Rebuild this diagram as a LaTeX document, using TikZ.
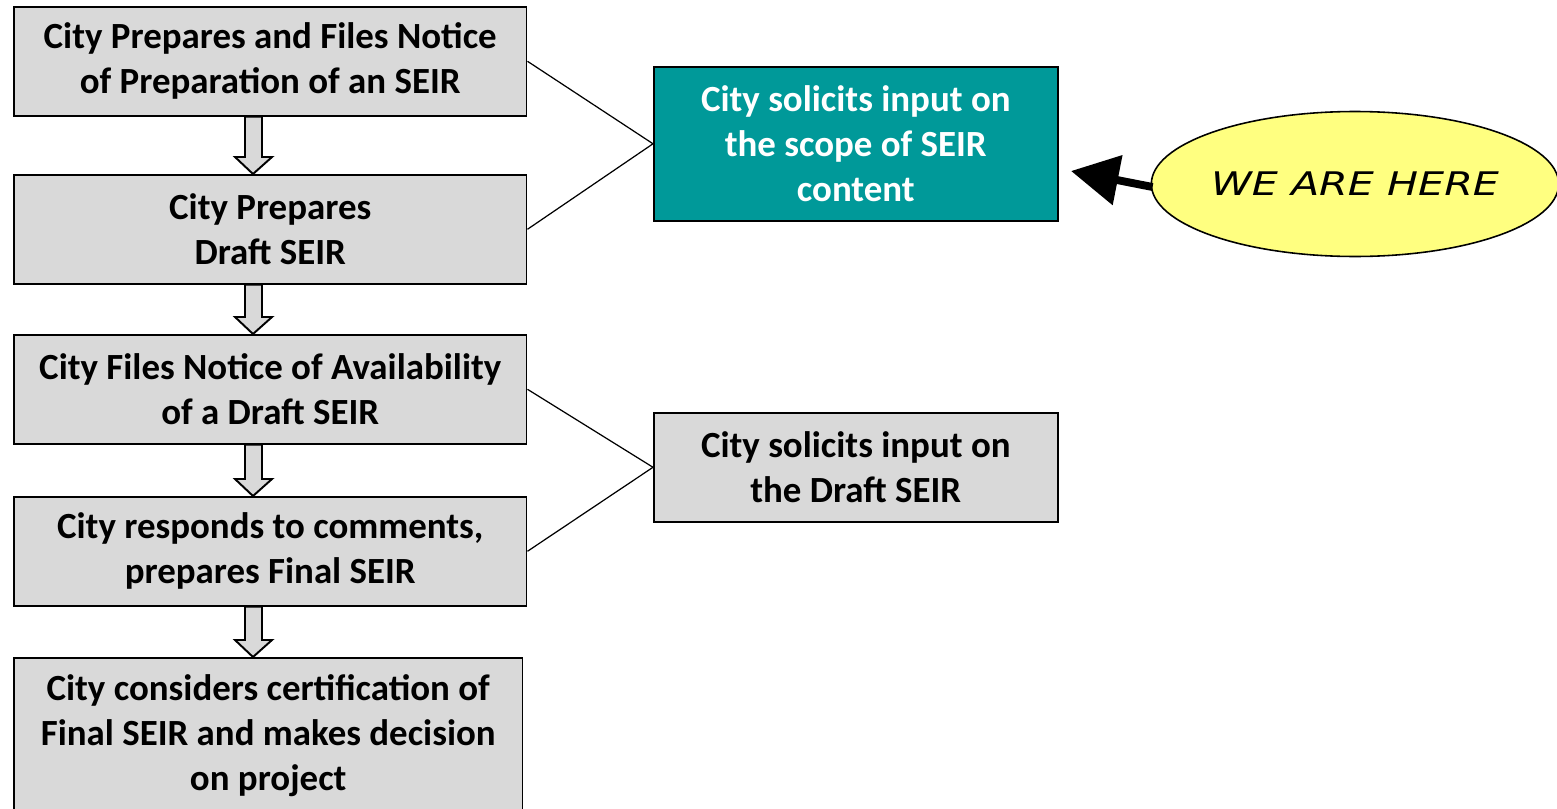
\documentclass[tikz,border=0pt]{standalone}
\usepackage{fontspec}
\setmainfont{Carlito}
\newfontfamily\verd{DejaVu Sans}
\usetikzlibrary{arrows.meta,calc,shapes.geometric}
\definecolor{boxgray}{HTML}{D9D9D9}
\definecolor{teal}{HTML}{009999}
\definecolor{hereyellow}{HTML}{FFFF80}
\tikzset{
  stepbox/.style={draw=black, line width=0.9pt, fill=boxgray, rectangle, anchor=north west,
    minimum width=10.26cm, minimum height=2.18cm, align=center, inner sep=0pt,
    font=\bfseries\fontsize{21}{25.5}\selectfont},
  tealbox/.style={stepbox, fill=teal, text=white, minimum width=8.08cm, minimum height=3.08cm},
  sidebox/.style={stepbox, minimum width=8.08cm, minimum height=2.18cm},
  link/.style={draw=black, line width=0.7pt},
  blockarr/.style={draw=black, line width=1.1pt, fill=boxgray, line join=miter},
}
\newcommand\blockarrow[2]{%
  \draw[blockarr] (245,0 |- #1.south) -- ($(245,0 |- #2.north)+(0,-17)$) -- ($(235,0 |- #2.north)+(0,-17)$)
    -- (253,0 |- #2.north) -- ($(272,0 |- #2.north)+(0,-17)$) -- ($(262,0 |- #2.north)+(0,-17)$)
    -- (262,0 |- #1.south) -- cycle;}
\begin{document}
\begin{tikzpicture}[x=0.02cm,y=-0.02cm]
\useasboundingbox (0,0) rectangle (1557,808);
\node[stepbox] (b1) at (13,6) {City Prepares and Files Notice\\of Preparation of an SEIR};
\node[stepbox] (b2) at (13,174) {City Prepares\\Draft SEIR};
\node[stepbox] (b3) at (13,334) {City Files Notice of Availability\\of a Draft SEIR};
\node[stepbox] (b4) at (13,496) {City responds to comments,\\prepares Final SEIR};
\node[stepbox, minimum width=10.18cm, minimum height=3.12cm] (b5) at (13,657) {City considers certification of\\Final SEIR and makes decision\\on project};
\node[tealbox] (t1) at (653,66) {City solicits input on\\the scope of SEIR\\content};
\node[sidebox] (s1) at (653,412) {City solicits input on\\the Draft SEIR};
\blockarrow{b1}{b2}
\blockarrow{b2}{b3}
\blockarrow{b3}{b4}
\blockarrow{b4}{b5}
\draw[link] (b1.east) -- (t1.west);
\draw[link] (b2.east) -- (t1.west);
\draw[link] (b3.east) -- (s1.west);
\draw[link] (b4.east) -- (s1.west);
\node[ellipse, draw=black, line width=0.9pt, fill=hereyellow, minimum width=8cm, minimum height=2.9cm, inner sep=0pt] (here) at (1355,184)
  {\scalebox{1.27}[1]{\verd\itshape\fontsize{18.5}{22}\selectfont WE ARE HERE}};
\coordinate (tip) at (1071,171);
\draw[line width=4.5pt, -{Triangle[length=0.95cm,width=0.98cm]}] ($(here.west)+(2,3)$) -- (tip);
\end{tikzpicture}
\end{document}
